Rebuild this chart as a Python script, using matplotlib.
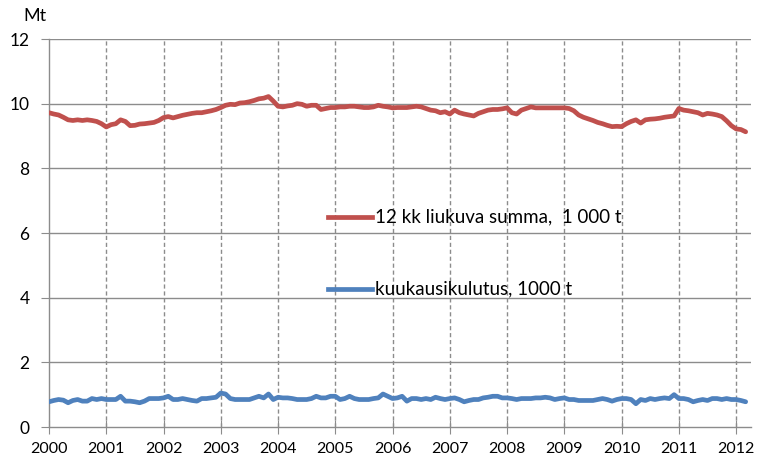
import numpy as np
import matplotlib
matplotlib.use("Agg")
import matplotlib.pyplot as plt

start_year = 2000
red_label = "12 kk liukuva summa,  1 000 t"
blue_label = "kuukausikulutus, 1000 t"
y_ticks = [0, 2, 4, 6, 8, 10, 12]
x_ticks = list(range(2000, 2013))

rolling_sum = [
    9.72, 9.68, 9.65, 9.58, 9.50, 9.48, 9.50, 9.48, 9.50, 9.48, 9.45, 9.38,
    9.28, 9.35, 9.38, 9.50, 9.45, 9.32, 9.33, 9.37, 9.38, 9.40, 9.42, 9.48,
    9.57, 9.60, 9.56, 9.60, 9.64, 9.67, 9.70, 9.72, 9.72, 9.75, 9.78, 9.82,
    9.88, 9.95, 9.98, 9.97, 10.02, 10.03, 10.06, 10.10, 10.15, 10.17, 10.22, 10.08,
    9.92, 9.90, 9.93, 9.95, 10.00, 9.98, 9.92, 9.95, 9.95, 9.82, 9.85, 9.88,
    9.88, 9.90, 9.90, 9.92, 9.92, 9.90, 9.88, 9.88, 9.90, 9.95, 9.92, 9.90,
    9.87, 9.88, 9.88, 9.88, 9.90, 9.92, 9.90, 9.85, 9.80, 9.78, 9.72, 9.75,
    9.68, 9.80, 9.72, 9.68, 9.65, 9.62, 9.70, 9.75, 9.80, 9.82, 9.82, 9.84,
    9.87, 9.72, 9.68, 9.80, 9.85, 9.90, 9.87, 9.87, 9.87, 9.87, 9.87, 9.87,
    9.87, 9.85, 9.78, 9.65, 9.58, 9.53, 9.48, 9.42, 9.38, 9.33, 9.29, 9.30,
    9.29, 9.38, 9.45, 9.50, 9.40, 9.50, 9.52, 9.53, 9.55, 9.58, 9.60, 9.62,
    9.85, 9.80, 9.78, 9.75, 9.72, 9.65, 9.70, 9.68, 9.65, 9.60, 9.47, 9.32,
    9.22, 9.20, 9.13,
]

monthly = [
    0.78, 0.82, 0.85, 0.83, 0.75, 0.82, 0.85, 0.80, 0.80, 0.88, 0.85, 0.88,
    0.85, 0.85, 0.85, 0.95, 0.80, 0.80, 0.78, 0.75, 0.80, 0.88, 0.88, 0.88,
    0.90, 0.95, 0.85, 0.85, 0.88, 0.85, 0.82, 0.80, 0.88, 0.88, 0.90, 0.92,
    1.05, 1.02, 0.88, 0.85, 0.85, 0.85, 0.85, 0.90, 0.95, 0.90, 1.02, 0.85,
    0.92, 0.90, 0.90, 0.88, 0.85, 0.85, 0.85, 0.88, 0.95, 0.90, 0.90, 0.95,
    0.95, 0.85, 0.88, 0.95, 0.88, 0.85, 0.85, 0.85, 0.88, 0.90, 1.02, 0.95,
    0.88, 0.90, 0.95, 0.80, 0.88, 0.88, 0.85, 0.88, 0.85, 0.92, 0.88, 0.85,
    0.88, 0.90, 0.85, 0.78, 0.82, 0.85, 0.85, 0.90, 0.92, 0.95, 0.95, 0.90,
    0.90, 0.88, 0.85, 0.88, 0.88, 0.88, 0.90, 0.90, 0.92, 0.90, 0.85, 0.88,
    0.90, 0.85, 0.85, 0.82, 0.82, 0.82, 0.82, 0.85, 0.88, 0.85, 0.80, 0.85,
    0.88, 0.88, 0.85, 0.72, 0.85, 0.82, 0.88, 0.85, 0.88, 0.90, 0.88, 1.00,
    0.88, 0.88, 0.85, 0.78, 0.82, 0.85, 0.82, 0.88, 0.88, 0.85, 0.88, 0.85,
    0.85, 0.82, 0.78,
]

x = start_year + np.arange(len(rolling_sum)) / 12.0

plt.rcParams['font.family'] = ['Lato', 'DejaVu Sans']
fig = plt.figure(figsize=(7.6, 4.65), dpi=100)
ax = fig.add_axes([49/760, 38/465, (751-49)/760, (427-39)/465])

RED = '#C0504D'
BLUE = '#4F81BD'
GRID = '#8C8C8C'

ax.plot(x, rolling_sum, color=RED, lw=3.4, solid_capstyle='round', zorder=3)
ax.plot(x, monthly, color=BLUE, lw=3.4, solid_capstyle='round', zorder=3)

ax.set_xlim(2000, 2012.26)
ax.set_ylim(0, 12)
ax.set_yticks(y_ticks)
ax.set_xticks(x_ticks)
ax.set_xticklabels([str(v) for v in x_ticks])

for y in y_ticks[1:]:
    ax.axhline(y, color=GRID, lw=1.0, zorder=1)
for xv in x_ticks[1:]:
    ax.axvline(xv, color=GRID, lw=1.0, ls=(0, (3, 2)), zorder=1)

for s in ['top', 'right']:
    ax.spines[s].set_visible(False)
for s in ['left', 'bottom']:
    ax.spines[s].set_color(GRID)
    ax.spines[s].set_linewidth(1.0)

ax.tick_params(axis='y', direction='out', length=6, color=GRID, labelsize=12.5, pad=8)
ax.tick_params(axis='x', direction='inout', length=10, color=GRID, labelsize=11.5, pad=6)

fig.text(35/760, 1 - 16/465, 'Mt', ha='center', va='center', fontsize=13)

# legend entries placed inside plot
def px2ax(px, py):
    return ((px - 49) / (751 - 49), (427 - py) / (427 - 39))

for (py, col, lab) in [(217, RED, red_label), (289, BLUE, blue_label)]:
    x0, y0 = px2ax(328, py)
    x1, _ = px2ax(372, py)
    xt, _ = px2ax(375, py)
    ax.plot([x0, x1], [y0, y0], color=col, lw=3.4, transform=ax.transAxes, zorder=4)
    ax.text(xt, y0, lab, transform=ax.transAxes, ha='left', va='center', fontsize=13.5, zorder=4)

fig.savefig('out.png', dpi=100)
